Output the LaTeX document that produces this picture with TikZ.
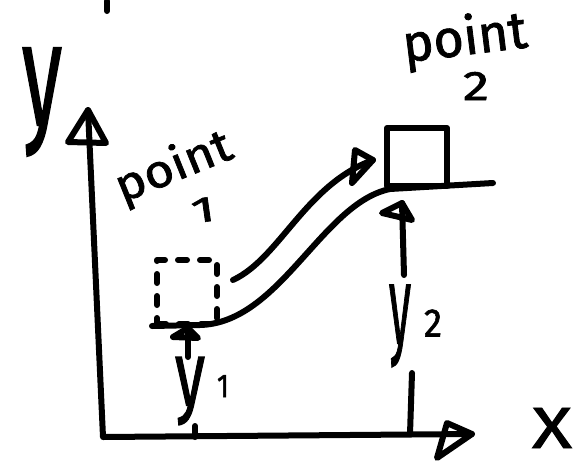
\documentclass[tikz,border=0pt]{standalone}
\usepackage{fontspec}
\setmainfont{Fira Sans}
\newfontfamily\inkfont{Fira Sans}[FakeBold=1.5]
\usepackage{graphicx}
\tikzset{
  ink/.style={line width=6pt, line cap=round, line join=round},
  dashink/.style={ink, dash pattern=on 9pt off 13pt},
  lbl/.style={inner sep=0pt, font=\inkfont},
}
\begin{document}
\begin{tikzpicture}[x=1pt,y=-1pt]
\useasboundingbox (0,0) rectangle (588,463);
% cropped stroke at the top
\coordinate (topa) at (107,1);
\coordinate (topb) at (107,11);
\draw[ink] (topa) -- (topb);
% axes
\coordinate (O) at (103,437);
\coordinate (ytip) at (88,110);
\coordinate (xtip) at (472,434);
\draw[ink] (ytip) -- (O) -- (xtip);
\draw[ink] (ytip) ++(-20,32) -- (ytip) -- ++(18,33) -- cycle;
\draw[ink] (xtip) ++(-25,-11) -- (xtip) -- ++(-35,24) -- cycle;
\node[lbl] (ylab) at (42,102) {\resizebox*{40pt}{108pt}{y}};
\node[lbl] (xlab) at (552,428) {\resizebox*{40pt}{40pt}{X}};
% path of the object
\coordinate (c0) at (152,326);
\coordinate (c1) at (200,325);
\coordinate (c2) at (390,189);
\coordinate (c3) at (493,183);
\draw[ink] (c0) -- (c1) .. controls (280,323) and (322,203) .. (c2) -- (c3);
% boxes
\node[draw, dashink, minimum width=60pt, minimum height=64pt, inner sep=0pt] (box1) at (187,292) {};
\node[draw, ink, minimum width=60pt, minimum height=58pt, inner sep=0pt] (box2) at (417,157) {};
% movement arrow
\coordinate (a0) at (233,280);
\coordinate (a1) at (373,160);
\draw[ink] (a0) .. controls (280,258) and (305,185) .. (a1);
\draw[ink] (a1) ++(-18,-10) -- (a1) -- ++(-21,23) -- cycle;
% point labels
\node[lbl, rotate=22] (p1) at (174,168) {\resizebox*{122pt}{46pt}{point}};
\node[lbl, rotate=8] (p1n) at (203,210) {\resizebox*{24pt}{24pt}{1}};
\node[lbl, rotate=7] (p2) at (465,40) {\resizebox*{125pt}{52pt}{point}};
\node[lbl] (p2n) at (476,86) {\resizebox*{26pt}{28pt}{2}};
% y1
\coordinate (y1tip) at (188,328);
\coordinate (y1a) at (188,357);
\coordinate (y1b) at (195,426);
\coordinate (y1c) at (195,437);
\node[lbl] (y1lab) at (190,391) {\resizebox*{30pt}{68pt}{y}};
\node[lbl] (y1sub) at (223,386) {\resizebox*{12pt}{22pt}{1}};
\draw[ink] (y1tip) -- (y1a);
\draw[ink] (y1b) -- (y1c);
\draw[ink] (y1tip) ++(-15,9) -- (y1tip) -- ++(10,10) -- cycle;
% y2
\coordinate (y2tip) at (402,203);
\coordinate (y2a) at (404,275);
\coordinate (y2b) at (412,373);
\coordinate (y2c) at (410,434);
\node[lbl] (y2lab) at (400,326) {\resizebox*{22pt}{82pt}{y}};
\node[lbl] (y2sub) at (433,323) {\resizebox*{18pt}{27pt}{2}};
\draw[ink] (y2tip) -- (y2a);
\draw[ink] (y2b) -- (y2c);
\draw[ink] (y2tip) ++(-20,10) -- (y2tip) -- ++(10,17) -- cycle;
\end{tikzpicture}
\end{document}
